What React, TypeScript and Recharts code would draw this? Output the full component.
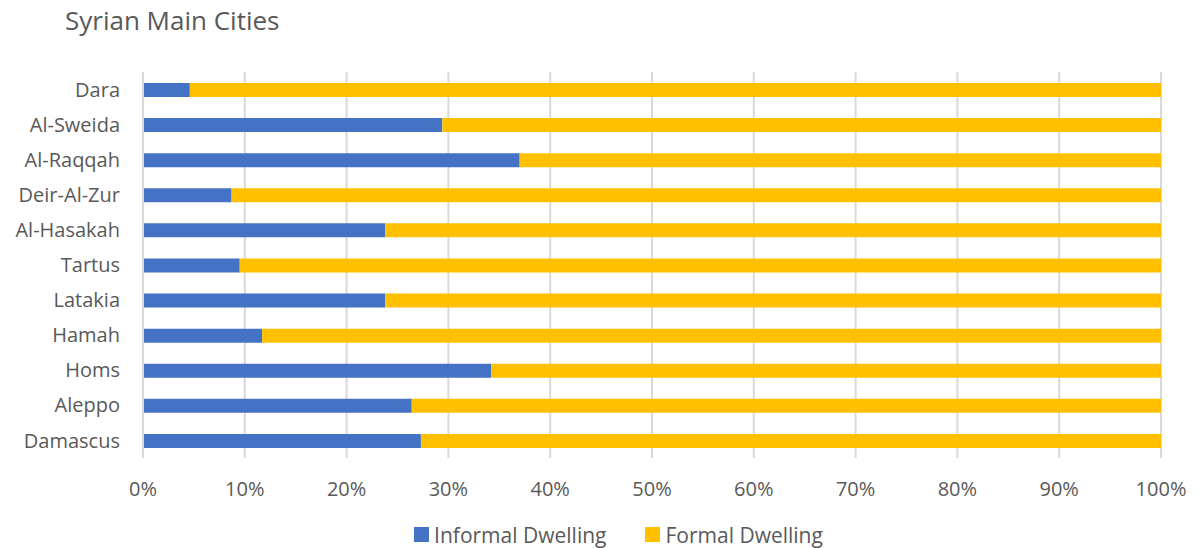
import { Bar, BarChart, CartesianGrid, Legend, XAxis, YAxis } from 'recharts';

const cities = [
  'Dara',
  'Al-Sweida',
  'Al-Raqqah',
  'Deir-Al-Zur',
  'Al-Hasakah',
  'Tartus',
  'Latakia',
  'Hamah',
  'Homs',
  'Aleppo',
  'Damascus',
];
const informalShare = [4.6, 29.4, 37.0, 8.7, 23.8, 9.5, 23.8, 11.7, 34.2, 26.4, 27.3];
const formalShare = informalShare.map((v) => Math.round((100 - v) * 10) / 10);
const percentTicks = [0, 10, 20, 30, 40, 50, 60, 70, 80, 90, 100];
const seriesNames = ['Informal Dwelling', 'Formal Dwelling'];
const seriesColors = ['#4472C4', '#FFC000'];

const FONT = '"Open Sans", sans-serif';
const TEXT_COLOR = '#595959';

const rows = cities.map((city, i) => ({
  city,
  informal: informalShare[i],
  formal: formalShare[i],
}));

function LegendRow() {
  return (
    <div
      style={{
        height: 40,
        paddingTop: 13,
        paddingLeft: 76,
        boxSizing: 'border-box',
        display: 'flex',
        justifyContent: 'center',
        gap: 39,
        fontSize: 21,
        fontFamily: FONT,
        color: TEXT_COLOR,
        lineHeight: '26px',
      }}
    >
      {seriesNames.map((name, i) => (
        <div key={name} style={{ display: 'flex', alignItems: 'center' }}>
          <span style={{ width: 15, height: 15, background: seriesColors[i], marginRight: 5, display: 'inline-block' }} />
          {name}
        </div>
      ))}
    </div>
  );
}

export default function App() {
  return (
    <div style={{ position: 'absolute', left: 0, top: 0, width: 1199, height: 548, background: '#fff', fontFamily: FONT }}>
      <div style={{ position: 'absolute', left: 65, top: 3, fontSize: 26, lineHeight: '34px', color: TEXT_COLOR }}>
        Syrian Main Cities
      </div>
      <BarChart
        width={1199}
        height={548}
        data={rows}
        layout="vertical"
        margin={{ top: 72, right: 38, bottom: 0, left: 0 }}
        barSize={14}
      >
        <CartesianGrid horizontal={false} stroke="#d9d9d9" strokeWidth={2} />
        <XAxis
          type="number"
          domain={[0, 100]}
          ticks={percentTicks}
          tickFormatter={(v) => `${v}%`}
          axisLine={false}
          tickLine={false}
          tickMargin={18}
          height={50}
          tick={{ fill: TEXT_COLOR, fontSize: 20, fontFamily: FONT }}
          interval={0}
        />
        <YAxis
          type="category"
          dataKey="city"
          width={143}
          axisLine={{ stroke: '#d9d9d9', strokeWidth: 2 }}
          tickLine={false}
          tickMargin={17}
          tick={{ fill: TEXT_COLOR, fontSize: 20, fontFamily: FONT }}
          interval={0}
        />
        <Legend verticalAlign="bottom" height={40} content={() => <LegendRow />} />
        <Bar dataKey="informal" name={seriesNames[0]} stackId="a" fill={seriesColors[0]} isAnimationActive={false} />
        <Bar dataKey="formal" name={seriesNames[1]} stackId="a" fill={seriesColors[1]} isAnimationActive={false} />
      </BarChart>
    </div>
  );
}
